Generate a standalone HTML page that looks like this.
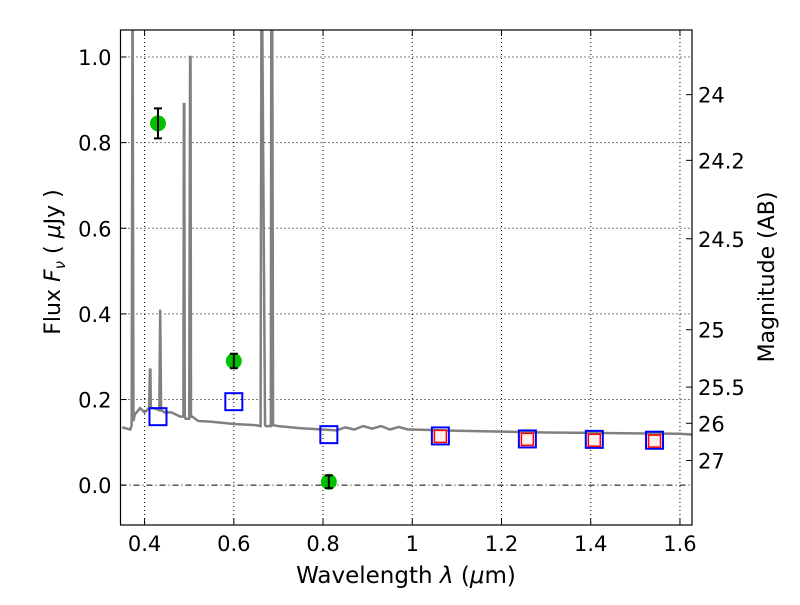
<!DOCTYPE html>
<html><head><meta charset="utf-8"><style>
body{margin:0;background:#fff;}
svg text{font-family:"DejaVu Sans","Liberation Sans",sans-serif;}
</style></head><body>
<svg id="chart" width="800" height="600" viewBox="0 0 800 600"></svg>
<script>
const xTicks=[0.4,0.6,0.8,1.0,1.2,1.4,1.6];
const xTickLabels=["0.4","0.6","0.8","1","1.2","1.4","1.6"];
const yTicks=[0,0.2,0.4,0.6,0.8,1.0];
const yTickLabels=["0.0","0.2","0.4","0.6","0.8","1.0"];
const magTicks=[24,24.2,24.5,25,25.5,26,27];
const magLabels=["24","24.2","24.5","25","25.5","26","27"];
const specLam=[0.35,0.368,0.371,0.373,0.375,0.378,0.39,0.40,0.41,0.412,0.413,0.414,0.42,0.433,0.435,0.437,0.445,0.46,0.48,0.487,0.488,0.489,0.490,0.492,0.500,0.502,0.503,0.504,0.505,0.507,0.52,0.55,0.60,0.65,0.66,0.662,0.663,0.67,0.672,0.683,0.684,0.686,0.688,0.70,0.75,0.80,0.83,0.85,0.87,0.89,0.91,0.93,0.95,0.97,0.99,1.0,1.1,1.2,1.3,1.4,1.5,1.6,1.63];
const specFlux=[0.135,0.13,0.14,1.2,0.15,0.165,0.18,0.17,0.18,0.27,0.27,0.18,0.18,0.175,0.41,0.175,0.17,0.17,0.16,0.16,0.89,0.89,0.16,0.155,0.155,1.0,1.0,0.16,0.16,0.16,0.15,0.148,0.143,0.14,0.138,1.2,1.2,0.14,0.138,0.138,1.2,1.2,0.14,0.138,0.133,0.13,0.128,0.135,0.13,0.138,0.132,0.138,0.13,0.136,0.13,0.13,0.127,0.125,0.123,0.122,0.121,0.12,0.118];
const photLam=[0.43,0.60,0.813];
const photFlux=[0.845,0.29,0.008];
const photErr=[0.035,0.017,0.015];
const modelLam=[0.43,0.60,0.813,1.063,1.258,1.408,1.543];
const modelFlux=[0.16,0.195,0.118,0.115,0.108,0.107,0.105];
const redLam=[1.063,1.258,1.408,1.543];
const redFlux=[0.114,0.107,0.105,0.103];
const L=120.5,R=692,T=30,B=525,x0=0.346,x1=1.627,y0=-0.093,y1=1.063;
const X=v=>L+(v-x0)/(x1-x0)*(R-L);
const Y=v=>B-(v-y0)/(y1-y0)*(B-T);
const svg=document.getElementById('chart');
const NS="http://www.w3.org/2000/svg";
function mk(tag,attrs,parent){const e=document.createElementNS(NS,tag);for(const k in attrs)e.setAttribute(k,attrs[k]);(parent||svg).appendChild(e);return e;}
const defs=mk('defs',{});const cp=mk('clipPath',{id:'clip'},defs);mk('rect',{x:L,y:T,width:R-L,height:B-T},cp);
xTicks.forEach((t,i)=>{
 const g=mk('line',{x1:X(t),x2:X(t),y1:T,y2:B,stroke:'#000','stroke-width':1,'stroke-dasharray':'1,3'});
 
 mk('line',{x1:X(t),x2:X(t),y1:B,y2:B-6,stroke:'#000'});mk('line',{x1:X(t),x2:X(t),y1:T,y2:T+6,stroke:'#000'});
 const tx=mk('text',{x:X(t),y:B+26,'text-anchor':'middle','font-size':21});tx.textContent=xTickLabels[i];
 
});
yTicks.forEach((t,i)=>{
 const g=mk('line',{x1:L,x2:R,y1:Y(t),y2:Y(t),stroke:'#000','stroke-width':1,'stroke-dasharray':t===0?'6,3,1,3':'1,3'});
 
 mk('line',{x1:L,x2:L+6,y1:Y(t),y2:Y(t),stroke:'#000'});
 const tx=mk('text',{x:L-9,y:Y(t)+8,'text-anchor':'end','font-size':21});tx.textContent=yTickLabels[i];
 
});
magTicks.forEach((m,i)=>{
 const f=Math.pow(10,(23.9-m)/2.5);
 mk('line',{x1:R,x2:R-6,y1:Y(f),y2:Y(f),stroke:'#000'});
 const tx=mk('text',{x:R+6,y:Y(f)+8,'font-size':21});tx.textContent=magLabels[i];
 
});
const sp=mk('polyline',{points:specLam.map((l,i)=>X(l)+','+Y(specFlux[i])).join(' '),fill:'none',stroke:'#808080','stroke-width':2.5,'clip-path':'url(#clip)'});

modelLam.forEach((l,i)=>{
 const r=mk('rect',{x:X(l)-8.5,y:Y(modelFlux[i])-8.5,width:17,height:17,fill:'none',stroke:'#0000ff','stroke-width':2});
 
});
redLam.forEach((l,i)=>{
 const r=mk('rect',{x:X(l)-6,y:Y(redFlux[i])-6,width:12,height:12,fill:'#fff0f0',stroke:'#ff0000','stroke-width':1.5});
 
});
photLam.forEach((l,i)=>{
 const c=mk('circle',{cx:X(l),cy:Y(photFlux[i]),r:8,fill:'#00c000'});
 
 const yt=Y(photFlux[i]+photErr[i]),yb=Y(photFlux[i]-photErr[i]);
 const e=mk('path',{d:`M${X(l)},${yt}V${yb}M${X(l)-4},${yt}H${X(l)+4}M${X(l)-4},${yb}H${X(l)+4}`,stroke:'#000','stroke-width':2,fill:'none'});
 
});
const fr=mk('rect',{x:L,y:T,width:R-L,height:B-T,fill:'none',stroke:'#000','stroke-width':1.2});

let t=mk('text',{x:406,y:583,'text-anchor':'middle','font-size':23});t.innerHTML='Wavelength  <tspan font-style="italic">λ</tspan> (<tspan font-style="italic">μ</tspan>m)';

t=mk('text',{x:0,y:0,'text-anchor':'middle','font-size':22,transform:'translate(60,262) rotate(-90)'});t.innerHTML='Flux  <tspan font-style="italic">F</tspan><tspan font-style="italic" font-size="15" dy="5">ν</tspan><tspan dy="-5">  (  <tspan font-style="italic">μ</tspan>Jy )</tspan>';

t=mk('text',{x:0,y:0,'text-anchor':'middle','font-size':22,transform:'translate(774,277) rotate(-90)'});t.textContent='Magnitude (AB)';

</script>
</body></html>
